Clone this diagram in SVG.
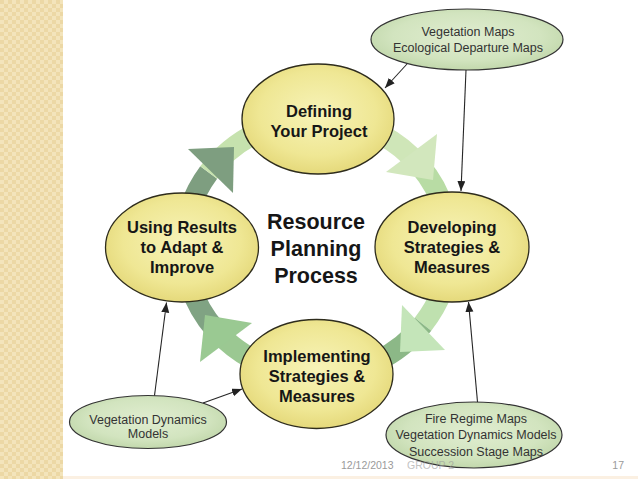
<svg xmlns="http://www.w3.org/2000/svg" width="638" height="479" viewBox="0 0 638 479">
<defs>
<pattern id="chk" width="8" height="8" patternUnits="userSpaceOnUse">
<rect width="8" height="8" fill="#f3e4bb"/>
<rect width="4" height="4" fill="#ecd8a5"/>
<rect x="4" y="4" width="4" height="4" fill="#ecd8a5"/>
</pattern>
<radialGradient id="yel" cx="50%" cy="45%" r="55%">
<stop offset="0" stop-color="#f7f3b8"/>
<stop offset="0.7" stop-color="#efe794"/>
<stop offset="1" stop-color="#e5d97b"/>
</radialGradient>
<radialGradient id="grn" cx="50%" cy="45%" r="55%">
<stop offset="0" stop-color="#e0edd0"/>
<stop offset="0.7" stop-color="#d2e4bf"/>
<stop offset="1" stop-color="#c2d8ac"/>
</radialGradient>
<marker id="ah" markerUnits="userSpaceOnUse" markerWidth="11" markerHeight="9" refX="10" refY="4" orient="auto">
<path d="M0,0 L10,4 L0,8 z" fill="#222"/>
</marker>
<style>
.big{fill:url(#yel);stroke:#2e2c1c;stroke-width:1.3}
.small{fill:url(#grn);stroke:#333;stroke-width:1.2}
.nt{font-family:"Liberation Sans",Arial,sans-serif;font-weight:bold;font-size:16.5px;fill:#161616;text-anchor:middle}
.ct{font-family:"Liberation Sans",Arial,sans-serif;font-weight:bold;font-size:21.5px;fill:#161616;text-anchor:middle}
.st{font-family:"Liberation Sans",Arial,sans-serif;font-size:12.5px;fill:#333;text-anchor:middle}
.ft{font-family:"Liberation Sans",Arial,sans-serif;font-size:10.5px;fill:#9a9a9a}
.ring{fill:none;stroke-width:21}
.conn{stroke:#262626;stroke-width:1.1;fill:none;marker-end:url(#ah)}
</style>
</defs>
<rect width="638" height="479" fill="#ffffff"/>
<rect x="0" y="0" width="63" height="479" fill="url(#chk)"/>
<rect x="63" y="476" width="575" height="3" fill="#fbf0e2"/>

<g id="cycle-arrows">
<path class="ring" stroke="#7e9e80" d="M184,247 A133,128 0 0 1 208.7,172.6"/>
<path class="ring" stroke="#c6e2ae" d="M208.7,172.6 A133,128 0 0 1 317,119"/>
<path class="ring" stroke="#cfe6b8" d="M317,119 A133,128 0 0 1 411.5,156.9"/>
<path class="ring" stroke="#b8dca4" d="M411.5,156.9 A133,128 0 0 1 450,247"/>
<path class="ring" stroke="#bfe1af" d="M450,247 A133,128 0 0 1 423,324.2"/>
<path class="ring" stroke="#8cb887" d="M423,324.2 A133,128 0 0 1 317,375"/>
<path class="ring" stroke="#9bc892" d="M317,375 A133,128 0 0 1 225.2,339.7"/>
<path class="ring" stroke="#80a383" d="M225.2,339.7 A133,128 0 0 1 184,247"/>
<polygon points="188,149 234,147 233,193" fill="#7e9e80"/>
<polygon points="437,134 386,172 433,180" fill="#d2e7bd"/>
<polygon points="402,305 445,350 400,352" fill="#c4e5b9"/>
<polygon points="205,315 252,323 200,362" fill="#9ac992"/>
</g>

<g id="label-center">
<text class="ct" x="316" y="229">Resource</text>
<text class="ct" x="316" y="256">Planning</text>
<text class="ct" x="316" y="283">Process</text>
</g>

<g id="n-defining">
<ellipse class="big" cx="318" cy="119" rx="76" ry="55"/>
<text class="nt" x="319" y="117">Defining</text>
<text class="nt" x="319" y="137">Your Project</text>
</g>
<g id="n-developing">
<ellipse class="big" cx="452" cy="247" rx="77" ry="55"/>
<text class="nt" x="452" y="233">Developing</text>
<text class="nt" x="452" y="253">Strategies &amp;</text>
<text class="nt" x="452" y="273">Measures</text>
</g>
<g id="n-implementing">
<ellipse class="big" cx="316.5" cy="374" rx="76.5" ry="54.5"/>
<text class="nt" x="317" y="362">Implementing</text>
<text class="nt" x="317" y="382">Strategies &amp;</text>
<text class="nt" x="317" y="402">Measures</text>
</g>
<g id="n-using">
<ellipse class="big" cx="182" cy="247.5" rx="76.5" ry="54.5"/>
<text class="nt" x="182" y="233">Using Results</text>
<text class="nt" x="182" y="253">to Adapt &amp;</text>
<text class="nt" x="182" y="273">Improve</text>
</g>
<g id="n-vegmaps">
<ellipse class="small" cx="467" cy="39.5" rx="96" ry="30.5"/>
<text class="st" x="468" y="36">Vegetation Maps</text>
<text class="st" x="468" y="52">Ecological Departure Maps</text>
</g>
<g id="n-vegdyn">
<ellipse class="small" cx="148" cy="422" rx="78.5" ry="26.5"/>
<text class="st" x="148" y="423.5">Vegetation Dynamics</text>
<text class="st" x="148" y="437.5">Models</text>
</g>
<g id="n-fire">
<ellipse class="small" cx="474" cy="435" rx="88" ry="33"/>
<text class="st" x="476" y="422.5">Fire Regime Maps</text>
<text class="st" x="476" y="439">Vegetation Dynamics Models</text>
<text class="st" x="476" y="455.5">Succession Stage Maps</text>
</g>

<g id="footer">
<text class="ft" x="341" y="469">12/12/2013</text>
<text class="ft" x="407" y="469" opacity="0.6">GROUP 2</text>
<text class="ft" x="624" y="469" text-anchor="end">17</text>
</g>

<g id="connectors">
<line class="conn" x1="407" y1="64" x2="385" y2="88"/>
<line class="conn" x1="466" y1="70" x2="461" y2="191"/>
<line class="conn" x1="154.5" y1="395.5" x2="166.5" y2="302.5"/>
<line class="conn" x1="203" y1="403" x2="242" y2="389"/>
<line class="conn" x1="477.5" y1="402" x2="468.5" y2="302"/>
</g>
</svg>
